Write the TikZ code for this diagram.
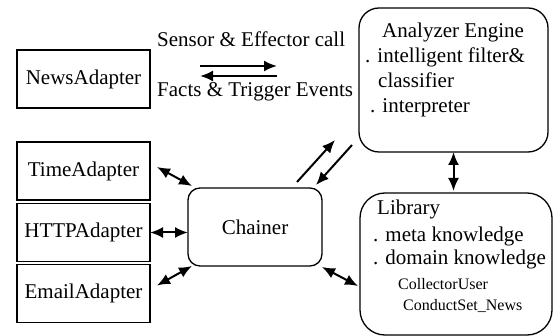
\documentclass[tikz,border=0pt]{standalone}
\usepackage{fontspec}
\setmainfont{Liberation Serif}
\usetikzlibrary{arrows.meta}
\begin{document}
\begin{tikzpicture}[x=1pt,y=-1pt,font=\fontsize{21}{24}\selectfont,
  adapter/.style={draw,line width=1.3pt,minimum width=133pt,minimum height=58pt,inner sep=0,outer sep=0},
  engine/.style={draw,line width=1.3pt,inner sep=0,outer sep=0},
  txtline/.style={anchor=base west,inner sep=0},
  arr/.style={line width=2pt,-{Latex[length=13pt,width=11pt]}},
  dbl/.style={line width=2pt,{Latex[length=13pt,width=11pt]}-{Latex[length=13pt,width=11pt]}}]
  \useasboundingbox (0,0) rectangle (556,336);
  \foreach \n/\y in {News/79,Time/171,HTTP/232.5,Email/293.5}{
    \node [adapter] (\n) at (83.5,\y) {\n Adapter};
  }
  \node [engine,rounded corners=12pt,minimum width=134pt,minimum height=78pt] (Chainer) at (255,227) {Chainer};
  \node [engine,rounded corners=20pt,minimum width=189pt,minimum height=144pt] (Analyzer) at (453.5,80) {};
  \node [engine,rounded corners=25pt,minimum width=192pt,minimum height=142pt] (Library) at (456,264) {};
  % engine text
  \node [txtline] (aeTitle) at (382,38) {Analyzer Engine};
  \node [txtline] (aeFilter) at (365,63) {. intelligent filter\&};
  \node [txtline] (aeClass) at (378,88) {classifier};
  \node [txtline] (aeInterp) at (370,113) {. interpreter};
  % library text
  \node [txtline] (libTitle) at (377,215) {Library};
  \node [txtline] (libMeta) at (373,242) {. meta knowledge};
  \node [txtline] (libDomain) at (373,265) {. domain knowledge};
  \node [txtline,font=\fontsize{16}{18}\selectfont] (libUser) at (398,290) {CollectorUser};
  \node [txtline,font=\fontsize{16}{18}\selectfont] (libNews) at (403,310) {ConductSet\_News};
  % labels
  \node [txtline] (sensor) at (157,47) {Sensor \& Effector call};
  \node [txtline] (facts) at (157,97) {Facts \& Trigger Events};
  % connectors
  \draw [arr] ([shift={(50,-13)}]News.east) -- ([shift={(-82,-14)}]Analyzer.west);
  \draw [arr] ([shift={(-82,-4)}]Analyzer.west) -- ([shift={(50,-3)}]News.east);
  \draw [arr] ([shift={(-25,-6)}]Chainer.north east) -- ([shift={(-24,-12)}]Analyzer.south west);
  \draw [arr] ([shift={(-7,-7)}]Analyzer.south west) -- ([shift={(-6,-3)}]Chainer.north east);
  \draw [dbl,shorten >=2pt] (Analyzer.south) -- (Analyzer.south |- Library.north);
  \draw [dbl] ([shift={(7,-4)}]Time.east) -- ([shift={(4,-2)}]Chainer.north west);
  \draw [dbl] (HTTP.east) -- (HTTP.east -| Chainer.west);
  \draw [dbl] ([shift={(7,-8)}]Email.east) -- ([shift={(4,0)}]Chainer.south west);
  \draw [dbl] ([shift={(0,1)}]Chainer.south east) -- ([shift={(-2,22)}]Library.west);
\end{tikzpicture}
\end{document}
